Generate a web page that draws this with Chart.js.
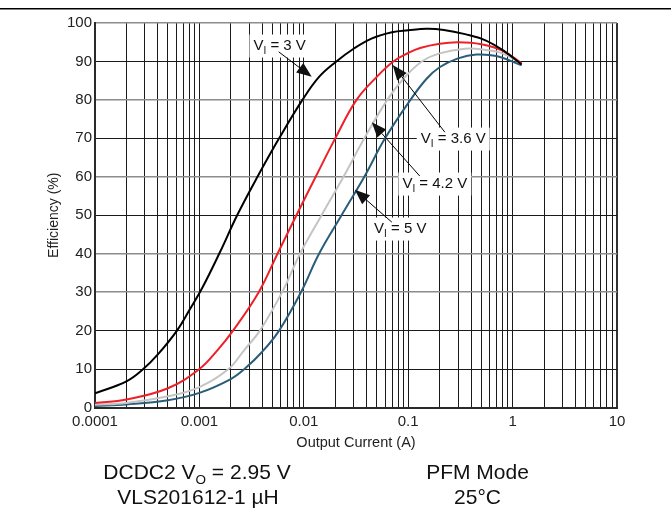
<!DOCTYPE html>
<html>
<head>
<meta charset="utf-8">
<script src="https://cdn.jsdelivr.net/npm/chart.js@4.4.1/dist/chart.umd.min.js"></script>
<style>
html,body{margin:0;padding:0;background:#fff;}
canvas{display:block;}
</style>
</head>
<body>
<canvas id="c" width="671" height="521"></canvas>
<script>
// ---------- DATA ----------
const current3V  = [0.0001,0.0002,0.00029,0.0004,0.00061,0.0008,0.00106,0.00158,0.0023,0.0036,0.0058,0.0097,0.014,0.0205,0.03,0.045,0.07,0.1,0.15,0.22,0.35,0.55,0.85,1.22];
const eff3V      = [3.7,6.8,10,13.8,20,25.3,31,40.5,50,60,70,80,86,90,93.3,96,97.6,98.1,98.5,98.2,97.1,95.5,92.5,89.2];

const current36V = [0.0001,0.0002,0.0005,0.001,0.0015,0.0021,0.0037,0.0056,0.0085,0.013,0.02,0.032,0.05,0.072,0.1,0.13,0.2,0.3,0.5,0.8,1.22];
const eff36V     = [1.2,2.1,5.0,10,15,20,30,40,50,60,70,80,86,90,92.2,93.5,94.6,95,94.5,92.8,89.5];

const current42V = [0.0001,0.0002,0.0005,0.001,0.0019,0.0027,0.0038,0.0062,0.0092,0.0148,0.024,0.038,0.063,0.09,0.135,0.2,0.35,0.55,0.8,1.22];
const eff42V     = [0.7,1.2,2.9,5.3,10,15,20,30,40,50,60,70,80,85.5,90,92.1,93.3,93,92.1,89.4];

const current5V  = [0.0001,0.0002,0.0005,0.001,0.002,0.0027,0.004,0.0058,0.0094,0.014,0.023,0.038,0.06,0.105,0.15,0.2,0.3,0.45,0.7,1.22];
const eff5V      = [0.4,0.8,1.9,3.8,7.4,10,14.5,20,30,40,50,60,70,80,85.5,88.5,90.8,91.8,91.4,89];

const decades      = [0.0001,0.001,0.01,0.1,1,10];
const xTickLabels  = ['0.0001','0.001','0.01','0.1','1','10'];
const yTickValues  = [0,10,20,30,40,50,60,70,80,90,100];
const grayRows     = [30,40,60,80,100];

const xTitle = 'Output Current (A)';
const yTitle = 'Efficiency (%)';

// ---------- helpers ----------
const FONT = '"Liberation Sans", Arial, Helvetica, sans-serif';
function pts(xs, ys){ return xs.map((x,i)=>({x:x, y:ys[i]})); }

function drawRich(ctx, parts, cx, baseY, size, subSize, subDrop){
  const widths = parts.map(p => { ctx.font = (p[1]?subSize:size)+'px '+FONT; return ctx.measureText(p[0]).width; });
  const w = widths.reduce((a,b)=>a+b,0);
  let x = cx - w/2;
  ctx.textBaseline = 'alphabetic';
  ctx.textAlign = 'left';
  parts.forEach((p,i)=>{
    ctx.font = (p[1]?subSize:size)+'px '+FONT;
    ctx.fillText(p[0], x, baseY + (p[1]?subDrop:0));
    x += widths[i];
  });
  return w;
}

// annotation labels (in data coordinates)
const annotations = [
  {parts:[['V',0],['I',1],[' = 3 V',0]],   at:[0.00587,93.1], from:[0.00575,92.5], to:[0.0119,86.0]},
  {parts:[['V',0],['I',1],[' = 3.6 V',0]], at:[0.270,68.9],  from:[0.2245,71.6], to:[0.0711,89.1]},
  {parts:[['V',0],['I',1],[' = 4.2 V',0]], at:[0.180,57.2],  from:[0.129,60.2],  to:[0.0448,74.2]},
  {parts:[['V',0],['I',1],[' = 5 V',0]],   at:[0.084,45.5],  from:[0.0697,48.2], to:[0.0308,56.6]}
];

const captions = [
  {parts:[['DCDC2 V',0],['O',1],[' = 2.95 V',0]], cx:197, y:478.5},
  {parts:[['VLS201612-1 µH',0]], cx:198, y:503.5},
  {parts:[['PFM Mode',0]], cx:477.5, y:478.5},
  {parts:[['25°C',0]], cx:477.5, y:503.5}
];

const overlayPlugin = {
  id:'overlay',
  afterDatasetsDraw(chart){
    const ctx = chart.ctx, xs = chart.scales.x, ys = chart.scales.y;
    ctx.save();
    annotations.forEach(a=>{
      const cx = xs.getPixelForValue(a.at[0]);
      const by = ys.getPixelForValue(a.at[1]);
      let w = 0;
      a.parts.forEach(p=>{ ctx.font=(p[1]?10:15)+'px '+FONT; w += ctx.measureText(p[0]).width; });
      ctx.fillStyle = '#fff';
      ctx.fillRect(cx - w/2 - 4, by - 15, w + 8, 23);
      const x1 = xs.getPixelForValue(a.from[0]), y1 = ys.getPixelForValue(a.from[1]);
      const x2 = xs.getPixelForValue(a.to[0]),   y2 = ys.getPixelForValue(a.to[1]);
      const ang = Math.atan2(y2-y1, x2-x1);
      const L = 15, W = 6;
      const bx = x2 - L*Math.cos(ang), byy = y2 - L*Math.sin(ang);
      ctx.strokeStyle = '#000'; ctx.lineWidth = 1;
      ctx.beginPath(); ctx.moveTo(x1,y1); ctx.lineTo(bx,byy); ctx.stroke();
      ctx.fillStyle = '#111';
      ctx.beginPath();
      ctx.moveTo(x2,y2);
      ctx.lineTo(bx + W*Math.sin(ang), byy - W*Math.cos(ang));
      ctx.lineTo(bx - W*Math.sin(ang), byy + W*Math.cos(ang));
      ctx.closePath(); ctx.fill();
      ctx.fillStyle = '#111';
      drawRich(ctx, a.parts, cx, by, 15, 10, 4);
    });
    ctx.restore();
  },
  afterDraw(chart){
    const ctx = chart.ctx;
    ctx.save();
    ctx.strokeStyle = '#000'; ctx.lineWidth = 1.5;
    ctx.beginPath(); ctx.moveTo(0, 8.75); ctx.lineTo(671, 8.75); ctx.stroke();
    ctx.fillStyle = '#111';
    captions.forEach(c => drawRich(ctx, c.parts, c.cx, c.y, 21, 13.5, 5));
    ctx.restore();
  }
};

const datasets = [
  {label:'VI = 3 V',   data:pts(current3V,eff3V),   borderColor:'#000000'},
  {label:'VI = 3.6 V', data:pts(current36V,eff36V), borderColor:'#ee2028'},
  {label:'VI = 4.2 V', data:pts(current42V,eff42V), borderColor:'#c4c4c4'},
  {label:'VI = 5 V',   data:pts(current5V,eff5V),   borderColor:'#2a5d79'}
].map(d => Object.assign(d, {showLine:true, pointRadius:0, borderWidth:2, fill:false, tension:0.4}));

new Chart(document.getElementById('c'), {
  type:'scatter',
  data:{datasets},
  plugins:[overlayPlugin],
  options:{
    responsive:false,
    animation:false,
    devicePixelRatio:1,
    layout:{padding:{left:40, right:54, top:23, bottom:67.5}},
    plugins:{legend:{display:false}, tooltip:{enabled:false}},
    scales:{
      x:{
        type:'logarithmic', min:0.0001, max:10,
        afterBuildTicks(scale){
          const t = [];
          decades.forEach((d,i)=>{
            if (i < decades.length-1) { for (let k=1;k<=9;k++) t.push({value:d*k}); }
            else t.push({value:d});
          });
          scale.ticks = t;
        },
        afterFit(scale){ scale.height = 46; },
        ticks:{
          autoSkip:false, maxRotation:0, padding:5, color:'#222',
          font:{family:FONT, size:15},
          callback(v, i){ return (i % 9 === 0) ? xTickLabels[i/9] : ''; }
        },
        grid:{
          drawTicks:false,
          color(ctx){ return ctx.tick && ctx.tick.value >= 9.99 ? '#333' : '#1a1a1a'; },
          lineWidth(ctx){ return ctx.tick && ctx.tick.value >= 9.99 ? 2 : 1; }
        },
        border:{color:'#2a2a2a', width:2},
        title:{display:true, text:xTitle, color:'#222', font:{family:FONT, size:14.5}, padding:{top:0,bottom:2}}
      },
      y:{
        min:0, max:100,
        afterBuildTicks(scale){ scale.ticks = yTickValues.map(v=>({value:v})); },
        afterFit(scale){ scale.width = 55; },
        ticks:{padding:3, color:'#222', font:{family:FONT, size:15}},
        grid:{
          drawTicks:false,
          color(ctx){ return grayRows.includes(ctx.tick.value) ? '#8c8c8c' : '#1a1a1a'; },
          lineWidth(ctx){ return grayRows.includes(ctx.tick.value) ? 1.6 : 1; }
        },
        border:{color:'#2a2a2a', width:2},
        title:{display:true, text:yTitle, color:'#222', font:{family:FONT, size:14}, padding:{top:6,bottom:0}}
      }
    }
  }
});
</script>
</body>
</html>
